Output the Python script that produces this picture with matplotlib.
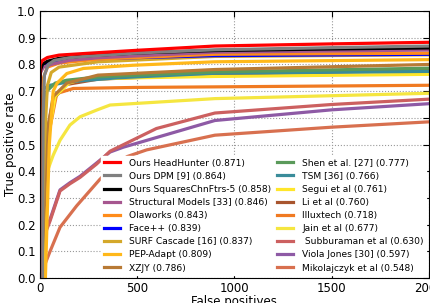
import matplotlib
matplotlib.use("Agg")
import matplotlib.pyplot as plt

# ROC curves (false positives, true positive rate)
labels = [
    "Ours HeadHunter (0.871)", "Ours DPM [9] (0.864)", "Ours SquaresChnFtrs-5 (0.858)",
    "Structural Models [33] (0.846)", "Olaworks (0.843)", "Face++ (0.839)",
    "SURF Cascade [16] (0.837)", "PEP-Adapt (0.809)", "XZJY (0.786)",
    "Shen et al. [27] (0.777)", "TSM [36] (0.766)", "Segui et al (0.761)",
    "Li et al (0.760)", "Illuxtech (0.718)", "Jain et al (0.677)",
    " Subburaman et al (0.630)", "Viola Jones [30] (0.597)", "Mikolajczyk et al (0.548)",
]
colors = [
    "#ff0000", "#808080", "#000000", "#a6568f", "#ff8c1a", "#0000ff",
    "#d4a82a", "#ffb81a", "#b87a35", "#5a9a5a", "#3a8c9a", "#ffe62a",
    "#a8552e", "#f07a22", "#f5e640", "#cc6060", "#8e5aa5", "#d8704f",
]

headhunter_x = [0, 0, 3, 15, 40, 100, 230, 500, 900, 1500, 2000]
headhunter_y = [0, 0.75, 0.80, 0.815, 0.826, 0.835, 0.841, 0.853, 0.869, 0.877, 0.883]
dpm_x = [15, 18, 25, 45, 75, 150, 230, 500, 900, 1500, 2000]
dpm_y = [0, 0.60, 0.76, 0.80, 0.815, 0.825, 0.830, 0.843, 0.855, 0.863, 0.869]
squares_x = [0, 2, 5, 15, 40, 100, 230, 500, 900, 1500, 2000]
squares_y = [0, 0.70, 0.78, 0.80, 0.812, 0.823, 0.832, 0.843, 0.852, 0.858, 0.862]
structural_x = [0, 0, 5, 20, 60, 150, 300, 900, 2000]
structural_y = [0, 0.72, 0.77, 0.79, 0.80, 0.815, 0.825, 0.846, 0.854]
olaworks_x = [0, 10, 20, 40, 100, 300, 900, 2000]
olaworks_y = [0, 0.60, 0.75, 0.79, 0.805, 0.820, 0.838, 0.842]
facepp_x = [0, 0, 3, 10, 50, 200, 900, 2000]
facepp_y = [0, 0.70, 0.78, 0.80, 0.81, 0.82, 0.833, 0.838]
surf_x = [5, 25, 40, 60, 100, 300, 900, 2000]
surf_y = [0, 0.50, 0.72, 0.77, 0.79, 0.81, 0.83, 0.836]
pep_x = [30, 50, 70, 90, 140, 225, 480, 900, 2000]
pep_y = [0, 0.50, 0.70, 0.73, 0.766, 0.785, 0.797, 0.810, 0.818]
xzjy_x = [10, 40, 70, 140, 300, 900, 2000]
xzjy_y = [0, 0.55, 0.68, 0.73, 0.76, 0.781, 0.800]
shen_x = [0, 20, 37, 80, 140, 310, 900, 2000]
shen_y = [0, 0.55, 0.70, 0.73, 0.741, 0.754, 0.772, 0.786]
tsm_x = [0, 0, 54, 150, 400, 900, 2000]
tsm_y = [0, 0.70, 0.722, 0.735, 0.750, 0.767, 0.774]
segui_x = [20, 50, 80, 150, 224, 500, 900, 2000]
segui_y = [0, 0.55, 0.68, 0.73, 0.745, 0.750, 0.755, 0.763]
li_x = [10, 40, 70, 139, 300, 900, 2000]
li_y = [0, 0.55, 0.67, 0.725, 0.745, 0.763, 0.778]
illux_x = [20, 50, 88, 173, 500, 900, 2000]
illux_y = [0, 0.55, 0.691, 0.710, 0.714, 0.716, 0.722]
jain_x = [0, 15, 40, 70, 105, 156, 208, 293, 362, 900, 2000]
jain_y = [0, 0.20, 0.40, 0.46, 0.516, 0.573, 0.604, 0.629, 0.648, 0.672, 0.692]
subb_x = [20, 28, 54, 105, 156, 208, 293, 362, 600, 900, 1500, 2000]
subb_y = [0.12, 0.165, 0.214, 0.326, 0.353, 0.377, 0.427, 0.475, 0.56, 0.618, 0.650, 0.670]
vj_x = [20, 28, 54, 105, 156, 208, 293, 362, 430, 900, 1500, 2000]
vj_y = [0.13, 0.17, 0.22, 0.33, 0.357, 0.381, 0.431, 0.472, 0.49, 0.590, 0.630, 0.653]
miko_x = [0, 54, 105, 190, 250, 310, 380, 450, 550, 900, 1500, 2000]
miko_y = [0, 0.10, 0.19, 0.27, 0.32, 0.37, 0.42, 0.455, 0.48, 0.535, 0.565, 0.585]

curves = [
    (headhunter_x, headhunter_y), (dpm_x, dpm_y), (squares_x, squares_y),
    (structural_x, structural_y), (olaworks_x, olaworks_y), (facepp_x, facepp_y),
    (surf_x, surf_y), (pep_x, pep_y), (xzjy_x, xzjy_y),
    (shen_x, shen_y), (tsm_x, tsm_y), (segui_x, segui_y),
    (li_x, li_y), (illux_x, illux_y), (jain_x, jain_y),
    (subb_x, subb_y), (vj_x, vj_y), (miko_x, miko_y),
]

x_ticks = [0, 500, 1000, 1500, 2000]
y_ticks = [0.0, 0.1, 0.2, 0.3, 0.4, 0.5, 0.6, 0.7, 0.8, 0.9, 1.0]

fig = plt.figure(figsize=(4.3, 3.03), dpi=100)
ax = fig.add_axes([0.092, 0.0825, 0.906, 0.881])

handles = [None] * len(curves)
# draw from the bottom of the legend up so HeadHunter ends on top
for i in reversed(range(len(curves))):
    xs, ys = curves[i]
    handles[i], = ax.plot(xs, ys, color=colors[i], lw=2.3, label=labels[i])

ax.set_xlim(0, 2000)
ax.set_ylim(0, 1.0)
ax.set_xticks(x_ticks)
ax.set_yticks(y_ticks)
ax.set_yticklabels([f"{v:.1f}" for v in y_ticks])
ax.tick_params(direction="in", top=True, right=True, length=4, labelsize=8.5, pad=3)
ax.grid(True, color="#999999", linestyle=":", lw=0.8)
ax.set_axisbelow(True)
ax.set_xlabel("False positives", fontsize=8.5, labelpad=0)
ax.set_ylabel("True positive rate", fontsize=8.5, labelpad=0)

leg = ax.legend(handles=handles, loc="lower right", ncol=2, fontsize=6.6,
                frameon=True, framealpha=1, edgecolor="white", fancybox=False,
                handlelength=1.7, handletextpad=1.0, columnspacing=0.7,
                labelspacing=0.45, borderaxespad=0.3, borderpad=0.3)
for h in leg.get_lines():
    h.set_linewidth(2.3)

fig.savefig("out.png", dpi=100)
